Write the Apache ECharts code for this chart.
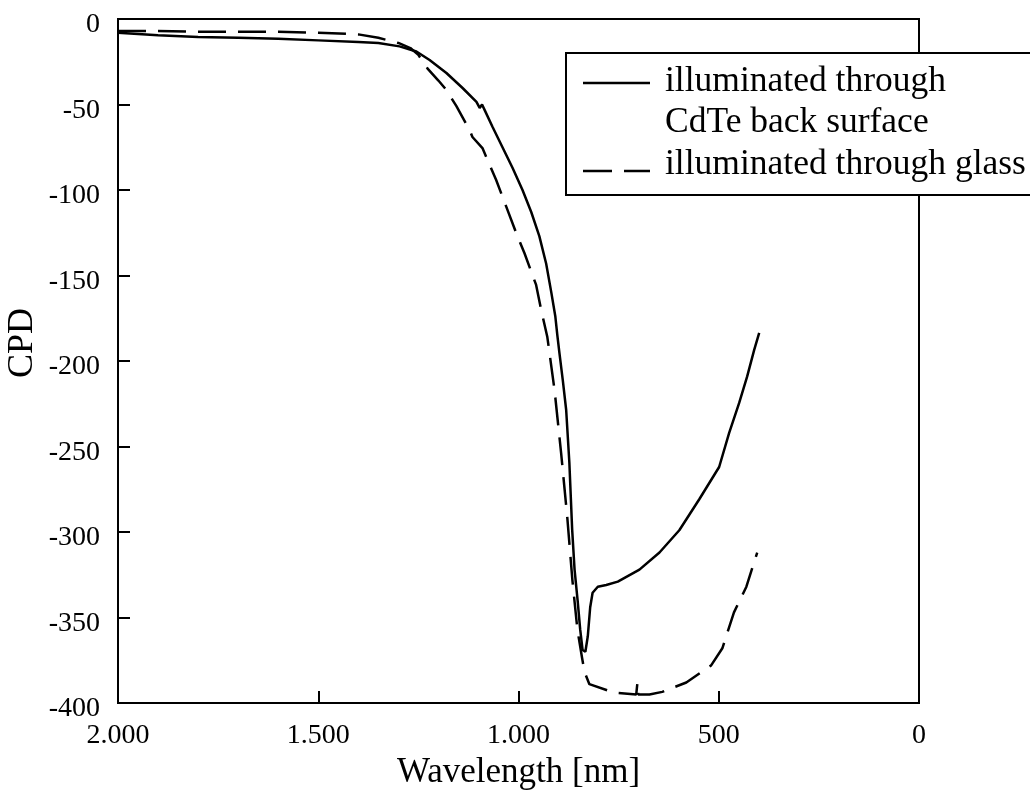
<!DOCTYPE html>
<html><head><meta charset="utf-8">
<script src="https://cdn.jsdelivr.net/npm/echarts@6/dist/echarts.min.js"></script>
<style>html,body{margin:0;padding:0;background:#fff}#c{width:1030px;height:796px}</style>
</head><body><div id="c"></div>
<script>
var seriesNames = ['illuminated through\nCdTe back surface', 'illuminated through glass'];
var xTicks = [0, 500, 1000, 1500, 2000];
var yTicks = [-400, -350, -300, -250, -200, -150, -100, -50, 0];

var backWavelength = [2000,1900,1800,1700,1600,1500,1400,1350,1297,1255,1222,1180,1139,1105,1097,1091,1085,1065,1040,1015,990,968,948,931,918,908,903,898,889.5,881,873,866,860,852,846,840,833,827,821,815,802,781,752,698,648,598.5,549,499,474,449,429,411.5,399];
var backCPD = [-8,-9.5,-10.5,-11,-11.5,-12.5,-13.5,-14,-16,-19,-24,-31.6,-40.5,-48.5,-52,-50,-53,-63,-75,-87,-100,-113,-127,-143,-160,-174,-185,-195,-211,-228.5,-259.5,-298.6,-322,-341,-357,-369,-370,-361,-344,-335.5,-332,-331,-329,-322,-312,-299,-281,-262,-242,-224.5,-209,-193.5,-183.5];

var glassWavelength = [2000,1900,1800,1700,1600,1500,1400,1350,1300,1270,1250,1227,1200,1180,1155,1122,1115,1090,1056,1035,1006,985,956,943.5,928,910,893.5,878,865.5,853,841,835,823,761,706,703,701,673,641,581,519,491,462,431,404];
var glassCPD = [-7,-7,-7.5,-7.5,-7.5,-8,-9,-11,-14,-17,-21,-29,-36,-41.5,-51,-65,-69,-75.5,-94,-107,-125,-137,-155.5,-170,-186,-217,-254,-292,-328,-357,-374,-382,-389,-394,-395,-388,-395,-395,-393.5,-388,-378,-368,-347,-332,-312];

function zip(a, b) { return a.map(function (v, i) { return [v, b[i]]; }); }

var FONT = 'Liberation Serif';
var chart = echarts.init(document.getElementById('c'));
chart.setOption({
  animation: false,
  backgroundColor: '#fff',
  grid: { left: 118, right: 111, top: 19, bottom: 93, containLabel: false, outerBoundsMode: 'none', show: true, borderColor: '#000', borderWidth: 2, backgroundColor: 'transparent' },
  xAxis: {
    type: 'value', min: xTicks[0], max: xTicks[xTicks.length - 1], interval: 500, inverse: true,
    name: 'Wavelength [nm]', nameLocation: 'middle', nameGap: 50,
    nameTextStyle: { fontFamily: FONT, fontSize: 35, color: '#000' },
    axisLine: { onZero: false, lineStyle: { color: '#000', width: 2 } },
    axisTick: { inside: true, length: 12, lineStyle: { color: '#000', width: 2 } },
    splitLine: { show: false },
    axisLabel: { fontFamily: FONT, fontSize: 28, color: '#000', margin: 19,
      formatter: function (v) { return v >= 1000 ? Math.floor(v / 1000) + '.' + String(v % 1000).padStart(3, '0') : String(v); } }
  },
  yAxis: {
    type: 'value', min: yTicks[0], max: yTicks[yTicks.length - 1], interval: 50,
    name: 'CPD', nameLocation: 'middle', nameGap: 77, nameRotate: 90, nameMoveOverlap: false,
    nameTextStyle: { fontFamily: FONT, fontSize: 36, color: '#000', padding: [0, 0, 0, 36] },
    axisLine: { onZero: false, lineStyle: { color: '#000', width: 2 } },
    axisTick: { inside: true, length: 12, lineStyle: { color: '#000', width: 2 } },
    splitLine: { show: false },
    axisLabel: { fontFamily: FONT, fontSize: 28, color: '#000', margin: 18, verticalAlign: 'top', lineHeight: 12 }
  },
  series: [
    { name: seriesNames[0], type: 'line', data: zip(backWavelength, backCPD), showSymbol: false, symbol: 'none',
      lineStyle: { color: '#000', width: 2.5 }, z: 3 },
    { name: seriesNames[1], type: 'line', data: zip(glassWavelength, glassCPD), showSymbol: false, symbol: 'none',
      lineStyle: { color: '#000', width: 2.5, type: [28, 12] }, z: 2 }
  ],
  graphic: [
    { type: 'rect', z: 100, shape: { x: 566, y: 53, width: 480, height: 142 }, style: { fill: '#fff', stroke: '#000', lineWidth: 2 } },
    { type: 'line', z: 101, shape: { x1: 583, y1: 83, x2: 650, y2: 83 }, style: { stroke: '#000', lineWidth: 2.5 } },
    { type: 'line', z: 101, shape: { x1: 583, y1: 171, x2: 650, y2: 171 }, style: { stroke: '#000', lineWidth: 2.5, lineDash: [29, 12] } },
    { type: 'text', z: 101, style: { x: 665, y: 82, text: seriesNames[0].split('\n')[0], font: '35.5px "' + FONT + '"', fill: '#000', verticalAlign: 'middle' } },
    { type: 'text', z: 101, style: { x: 665, y: 123, text: seriesNames[0].split('\n')[1], font: '35.5px "' + FONT + '"', fill: '#000', verticalAlign: 'middle' } },
    { type: 'text', z: 101, style: { x: 665, y: 165, text: seriesNames[1], font: '35.5px "' + FONT + '"', fill: '#000', verticalAlign: 'middle' } }
  ]
});
</script></body></html>
